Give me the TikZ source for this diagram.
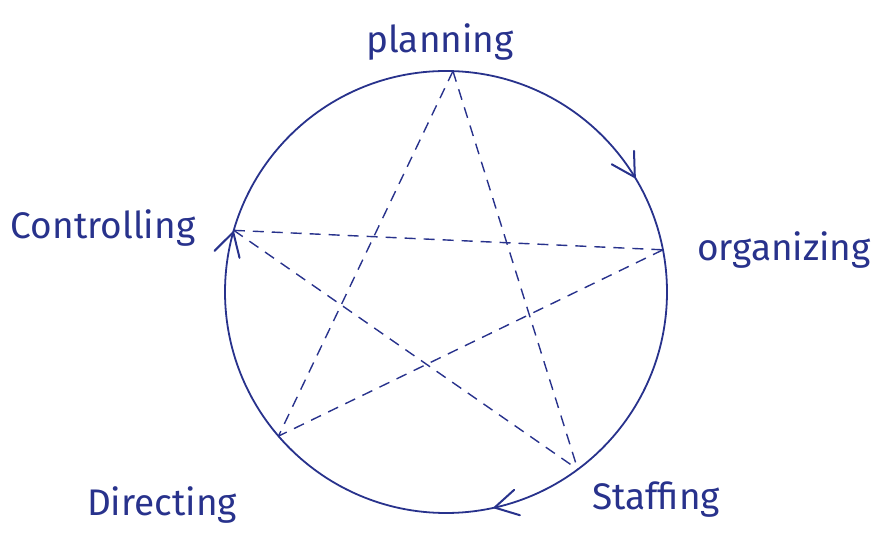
\documentclass[tikz,border=0pt]{standalone}
\usepackage{fontspec}
\setmainfont{Fira Sans}
\definecolor{ink}{RGB}{40,50,140}
\begin{document}
\begin{tikzpicture}[x=1pt,y=1pt,
  lbl/.style={text=ink,font=\fontsize{37}{40}\selectfont,inner sep=0pt},
  ring/.style={draw=ink,line width=1.8pt},
  barb/.style={draw=ink,line width=2pt,line cap=round,line join=round},
  star/.style={draw=ink,line width=1.4pt,dash pattern=on 11pt off 8pt}]
\useasboundingbox (0,0) rectangle (885,540);
\coordinate (c) at (446,248);
\path (c) ++(88.2:221) coordinate (P);
\path (c) ++(11:221) coordinate (O);
\path (c) ++(-53.4:221) coordinate (S);
\path (c) ++(-139.3:221) coordinate (D);
\path (c) ++(163.8:221) coordinate (C);
\path (c) ++(31.3:221) coordinate (a1);
\path (c) ++(-77.3:221) coordinate (a2);
\path (c) ++(164.3:221) coordinate (a3);
\draw[ring] (c) circle[radius=221];
\draw[barb,shift={(a1)},rotate=-58.7] (-23,13) -- (0,0) -- (-23,-13);
\draw[barb,shift={(a2)},rotate=-167.3] (-23,13) -- (0,0) -- (-23,-13);
\draw[barb,shift={(a3)},rotate=74.3] (-23,13) -- (0,0) -- (-23,-13);
\draw[star] (P) -- (D);
\draw[star] (P) -- (S);
\draw[star] (C) -- (O);
\draw[star] (C) -- (S);
\draw[star] (O) -- (D);
\node[lbl] (lp) at (440,498) {planning};
\node[lbl] (lo) at (784,290) {organizing};
\node[lbl] (ls) at (656,40) {Staffing};
\node[lbl] (ld) at (162,35) {Directing};
\node[lbl] (lc) at (103,312) {Controlling};
\end{tikzpicture}
\end{document}
